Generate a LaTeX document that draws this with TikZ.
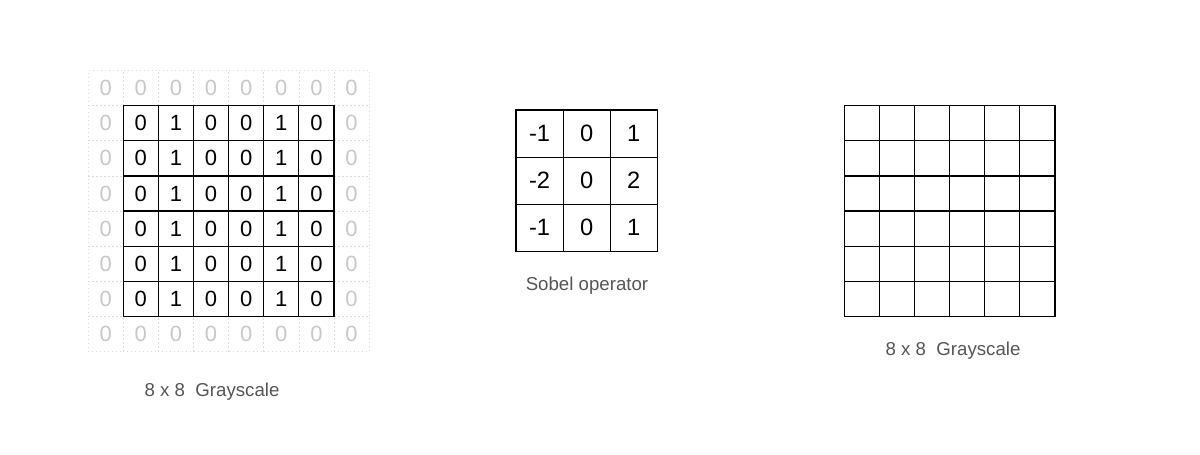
\documentclass[tikz,border=0pt]{standalone}
\usepackage{fontspec}
\setmainfont{Liberation Sans}
\definecolor{ghostgray}{HTML}{C8C8C8}
\definecolor{ghostline}{HTML}{DADADA}
\definecolor{capgray}{HTML}{555555}
\begin{document}
\begin{tikzpicture}[x=0.6pt,y=-0.6pt,
  incell/.style={draw=black, line width=0.7pt, minimum size=21.07pt, inner sep=0pt,
    font=\fontsize{13.2}{15}\selectfont, text=black},
  ghostcell/.style={draw=ghostline, dotted, line width=0.4pt, minimum size=21.07pt, inner sep=0pt,
    font=\fontsize{13.2}{15}\selectfont, text=ghostgray},
  sobcell/.style={draw=black, line width=0.7pt, minimum size=28.26pt, inner sep=0pt,
    font=\fontsize{14.2}{16}\selectfont, text=black},
  caption/.style={anchor=base, inner sep=0pt, font=\fontsize{11.2}{13}\selectfont, text=capgray}]
\useasboundingbox (0,0) rectangle (1200,454);
% ---- left padded input grid ----
\def\cs{35.12}
\foreach \i in {-1,...,6}{
  \foreach \j in {-1,...,6}{
    \pgfmathtruncatemacro{\inside}{(\i>=0)&&(\i<=5)&&(\j>=0)&&(\j<=5)}
    \ifnum\inside=0
      \node[ghostcell] (g\i\j) at ({123.3+\cs*(\i+0.5)},{105.7+\cs*(\j+0.5)}) {0};
    \fi
  }
}
\foreach \i/\v in {0/0,1/1,2/0,3/0,4/1,5/0}{
  \foreach \j in {0,...,5}{
    \node[incell] (a\i\j) at ({123.3+\cs*(\i+0.5)},{105.7+\cs*(\j+0.5)}) {\v};
  }
}
\node[caption] (lcap) at (212,396.5) {8 x 8\ \ Grayscale};
% ---- Sobel operator ----
\def\ss{47.1}
\foreach \i/\a/\b/\c in {0/-1/-2/-1,1/0/0/0,2/1/2/1}{
  \node[sobcell] (s\i0) at ({516+\ss*(\i+0.5)},{110+\ss*0.5}) {\a};
  \node[sobcell] (s\i1) at ({516+\ss*(\i+0.5)},{110+\ss*1.5}) {\b};
  \node[sobcell] (s\i2) at ({516+\ss*(\i+0.5)},{110+\ss*2.5}) {\c};
}
\node[caption] (scap) at (587,290.5) {Sobel operator};
% ---- right output grid ----
\foreach \i in {0,...,5}{
  \foreach \j in {0,...,5}{
    \node[incell] (b\i\j) at ({844.3+\cs*(\i+0.5)},{105.7+\cs*(\j+0.5)}) {};
  }
}
\node[caption] (rcap) at (953,355.7) {8 x 8\ \ Grayscale};
\end{tikzpicture}
\end{document}
